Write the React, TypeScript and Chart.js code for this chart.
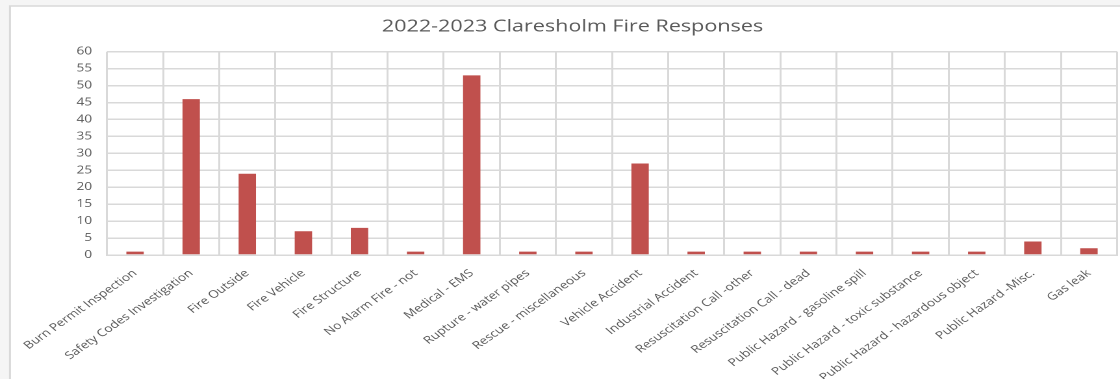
import React, { useEffect, useRef } from "react";
import { Chart, registerables } from "chart.js";

Chart.register(...registerables);

const categories: string[] = [
  "Burn Permit Inspection",
  "Safety Codes Investigation",
  "Fire Outside",
  "Fire Vehicle",
  "Fire Structure",
  "No Alarm Fire - not",
  "Medical - EMS",
  "Rupture - water pipes",
  "Rescue - miscellaneous",
  "Vehicle Accident",
  "Industrial Accident",
  "Resuscitation Call -other",
  "Resuscitation Call - dead",
  "Public Hazard - gasoline spill",
  "Public Hazard - toxic substance",
  "Public Hazard - hazardous object",
  "Public Hazard -Misc.",
  "Gas leak",
];

const responses: number[] = [1, 46, 24, 7, 8, 1, 53, 1, 1, 27, 1, 1, 1, 1, 1, 1, 4, 2];

const yTicks: number[] = [0, 5, 10, 15, 20, 25, 30, 35, 40, 45, 50, 55, 60];

const titleText = "2022-2023 Claresholm Fire Responses";

// internal drawing width, stretched horizontally to 1120 on screen
const W = 862;
const H = 379;
const SX = 1120 / W;

const framePlugin = {
  id: "frame",
  beforeDraw(chart: any) {
    const ctx = chart.ctx;
    ctx.save();
    ctx.fillStyle = "#f5f5f5";
    ctx.fillRect(0, 0, chart.width, chart.height);
    const bx = 10 / SX;
    const by = 6;
    ctx.fillStyle = "#ffffff";
    ctx.fillRect(bx, by, chart.width - bx, chart.height - by);
    ctx.strokeStyle = "#d9d9d9";
    ctx.lineWidth = 1.5;
    ctx.beginPath();
    ctx.moveTo(bx, chart.height);
    ctx.lineTo(bx, by);
    ctx.lineTo(chart.width, by);
    ctx.stroke();
    ctx.restore();
  },
};

export default function App() {
  const ref = useRef<HTMLCanvasElement | null>(null);

  useEffect(() => {
    if (!ref.current) return;
    const plotLeft = 107 / SX;
    const plotRight = 1117 / SX;
    const padRight = W - plotRight;
    const padLeft = 2 * (572.5 / SX) - plotRight;
    const yAxisWidth = plotLeft - padLeft;

    const chart = new Chart(ref.current, {
      type: "bar",
      data: {
        labels: categories,
        datasets: [
          {
            label: "Responses",
            data: responses,
            backgroundColor: "#c0504d",
            borderWidth: 0,
            barPercentage: 0.31,
            categoryPercentage: 1,
          },
        ],
      },
      plugins: [framePlugin],
      options: {
        responsive: false,
        animation: false,
        devicePixelRatio: 2,
        layout: { padding: { left: padLeft, right: padRight, top: 0, bottom: 0 } },
        plugins: {
          legend: { display: false },
          tooltip: { enabled: false },
          title: {
            display: true,
            text: titleText,
            color: "#595959",
            font: { family: "'Open Sans', sans-serif", size: 16.6, weight: "normal" },
            padding: { top: 17, bottom: 14.8 },
          },
        },
        scales: {
          x: {
            grid: { color: "#d9d9d9", lineWidth: 1.5, drawTicks: false, offset: true },
            border: { color: "#d9d9d9", width: 1.5 },
            ticks: {
              color: "#595959",
              font: { family: "'Open Sans', sans-serif", size: 10.5 },
              minRotation: 42,
              maxRotation: 42,
              autoSkip: false,
              padding: 12,
            },
            afterFit(scale: any) {
              scale.height = H - 255;
            },
          },
          y: {
            min: 0,
            max: 60,
            afterBuildTicks(scale: any) {
              scale.ticks = yTicks.map((v) => ({ value: v }));
            },
            grid: { color: "#d9d9d9", lineWidth: 1.5, drawTicks: false },
            border: { display: false },
            ticks: {
              color: "#595959",
              font: { family: "'Open Sans', sans-serif", size: 10.5 },
              padding: 11.5,
            },
            afterFit(scale: any) {
              scale.width = yAxisWidth;
            },
          },
        },
      },
    });
    return () => chart.destroy();
  }, []);

  return (
    <div style={{ position: "fixed", left: 0, top: 0, width: 1120, height: H }}>
      <canvas
        ref={ref}
        width={W}
        height={H}
        style={{ width: "1120px", height: `${H}px`, display: "block" }}
      />
    </div>
  );
}
